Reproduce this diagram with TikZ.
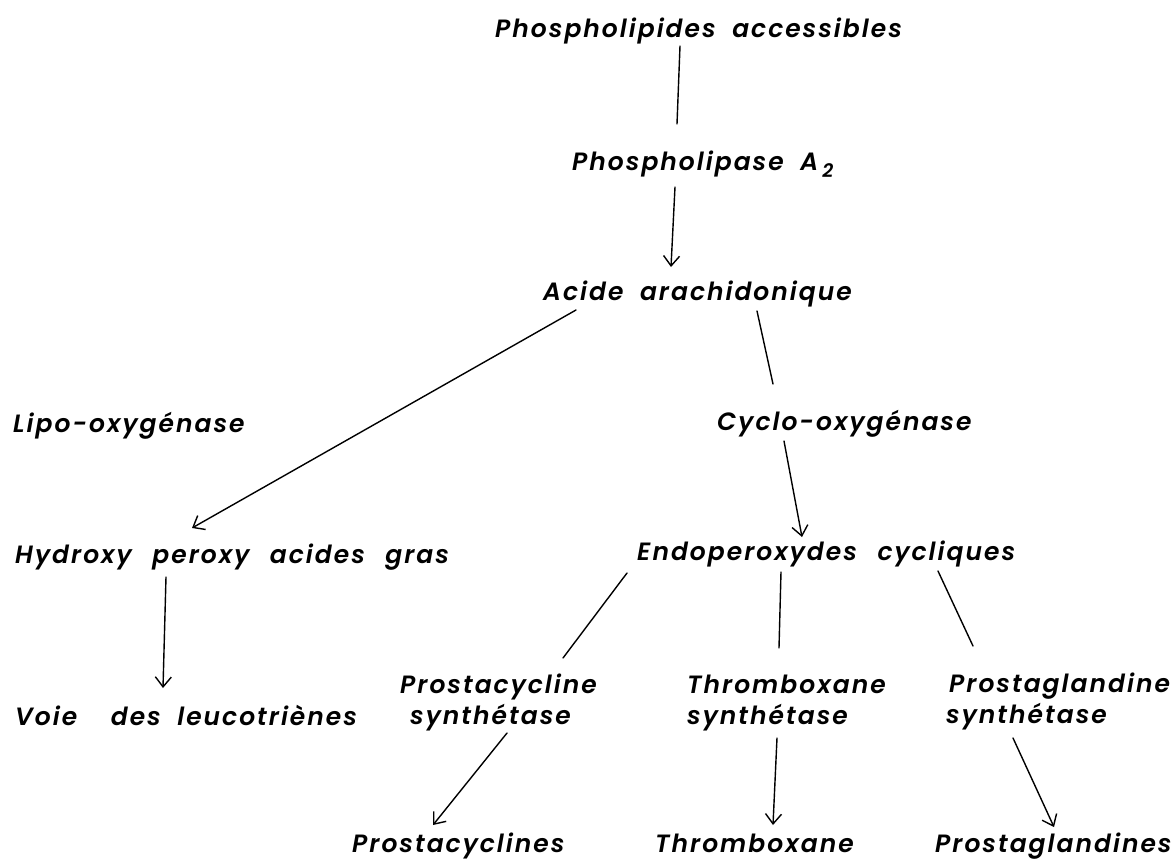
\documentclass[tikz,border=0pt]{standalone}
\usepackage{fontspec}
\newfontfamily\lblfam{Poppins SemiBold Italic}[LetterSpace=8,WordSpace=1.9]
\usetikzlibrary{arrows.meta,calc}
\tikzset{
  lbl/.style={anchor=base west, inner sep=0pt, align=left,
    font=\lblfam\fontsize{25}{31}\selectfont},
  conn/.style={line width=1.4pt, line cap=round},
  arr/.style={conn, -{Straight Barb[length=10pt,width=16pt]}}
}
\begin{document}
\begin{tikzpicture}[x=1pt,y=-1pt]
\fill[white] (0,0) rectangle (1176,860);
\useasboundingbox (0,0) rectangle (1176,860);

\node[lbl] (phos)  at (495,37)  {Phospholipides accessibles};
\node[lbl] (plase) at (572,170) {Phospholipase A\,\raisebox{-7pt}{\fontsize{19}{19}\selectfont 2}};
\node[lbl] (acide) at (543,300) {Acide arachidonique};
\node[lbl] (lipo)  at (13,432)  {Lipo-oxygénase};
\node[lbl] (cyclo) at (717,430) {Cyclo-oxygénase};
\node[lbl] (hydro) at (15,563)  {Hydroxy\hspace{4pt} peroxy\hspace{4pt} acides\hspace{4pt} gras};
\node[lbl] (endo)  at (637,560) {Endoperoxydes\hspace{4pt} cycliques};
\node[lbl] (pcs)   at (400,724) {Prostacycline\\\hspace*{10pt}synthétase};
\node[lbl] (tbs)   at (687,724) {Thromboxane\\synthétase};
\node[lbl] (pgs)   at (949,723) {Prostaglandine\\\hspace*{-3pt}synthétase};
\node[lbl] (voie)  at (15,725)  {Voie\hspace{17pt} des leucotriènes};
\node[lbl] (pcl)   at (352,852) {Prostacyclines};
\node[lbl] (thx)   at (655,852) {Thromboxane};
\node[lbl] (pgl)   at (935,852) {Prostaglandines};

\draw[conn] ($(phos.base west)+(185,9)$)   -- ($(plase.base west)+(105,-46)$);
\draw[arr]  ($(plase.base west)+(103,17)$) -- ($(acide.base west)+(128,-33)$);
\draw[arr]  ($(acide.base west)+(33,10)$)  -- ($(hydro.base west)+(177,-35)$);
\draw[conn] ($(acide.base west)+(214,11)$) -- ($(cyclo.base west)+(56,-46)$);
\draw[arr]  ($(cyclo.base west)+(67,11)$)  -- ($(endo.base west)+(165,-23)$);
\draw[arr]  ($(hydro.base west)+(151,14)$) -- ($(voie.base west)+(148,-37)$);
\draw[conn] ($(endo.base west)+(-10,13)$)  -- ($(pcs.base west)+(163,-66)$);
\draw[conn] ($(endo.base west)+(144,12)$)  -- ($(tbs.base west)+(92,-76)$);
\draw[conn] ($(endo.base west)+(301,11)$)  -- ($(pgs.base west)+(24,-77)$);
\draw[arr]  ($(pcs.base west)+(107,9)$)    -- ($(pcl.base west)+(81,-27)$);
\draw[arr]  ($(tbs.base west)+(90,14)$)    -- ($(thx.base west)+(118,-27)$);
\draw[arr]  ($(pgs.base west)+(64,15)$)    -- ($(pgl.base west)+(119,-25)$);
\end{tikzpicture}
\end{document}
